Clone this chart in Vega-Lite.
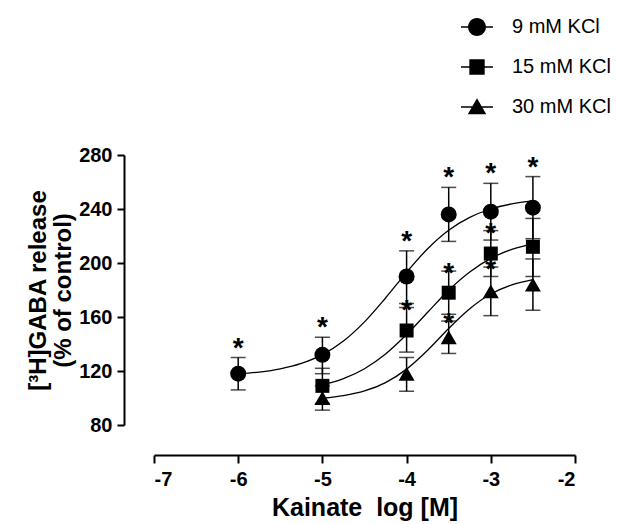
{
  "$schema": "https://vega.github.io/schema/vega-lite/v6.json",
  "autosize": "none",
  "width": 421,
  "height": 270,
  "padding": {"left": 154, "top": 155, "right": 42, "bottom": 99},
  "background": "white",
  "datasets": {
    "points": [
      {"series": "9 mM KCl", "x": -6, "mean": 118, "lo": 106, "hi": 130, "star": true},
      {"series": "9 mM KCl", "x": -5, "mean": 132, "lo": 118, "hi": 145, "star": true},
      {"series": "9 mM KCl", "x": -4, "mean": 190, "lo": 170, "hi": 209, "star": true},
      {"series": "9 mM KCl", "x": -3.5, "mean": 236, "lo": 216, "hi": 256, "star": true},
      {"series": "9 mM KCl", "x": -3, "mean": 238, "lo": 217, "hi": 259, "star": true},
      {"series": "9 mM KCl", "x": -2.5, "mean": 241, "lo": 218, "hi": 264, "star": true},
      {"series": "15 mM KCl", "x": -5, "mean": 109, "lo": 96, "hi": 122, "star": false},
      {"series": "15 mM KCl", "x": -4, "mean": 150, "lo": 134, "hi": 167, "star": true},
      {"series": "15 mM KCl", "x": -3.5, "mean": 178, "lo": 162, "hi": 194, "star": true},
      {"series": "15 mM KCl", "x": -3, "mean": 207, "lo": 190, "hi": 224, "star": true},
      {"series": "15 mM KCl", "x": -2.5, "mean": 212, "lo": 190, "hi": 233, "star": false},
      {"series": "30 mM KCl", "x": -5, "mean": 100, "lo": 91, "hi": 109, "star": false},
      {"series": "30 mM KCl", "x": -4, "mean": 118, "lo": 105, "hi": 130, "star": false},
      {"series": "30 mM KCl", "x": -3.5, "mean": 145, "lo": 133, "hi": 157, "star": true},
      {"series": "30 mM KCl", "x": -3, "mean": 179, "lo": 161, "hi": 197, "star": true},
      {"series": "30 mM KCl", "x": -2.5, "mean": 184, "lo": 165, "hi": 203, "star": false}
    ],
    "curves": [
      {"series": "9 mM KCl", "x": -6, "y": 117.8},
      {"series": "9 mM KCl", "x": -5.75, "y": 119.2},
      {"series": "9 mM KCl", "x": -5.5, "y": 121.6},
      {"series": "9 mM KCl", "x": -5.25, "y": 125.6},
      {"series": "9 mM KCl", "x": -5, "y": 132.1},
      {"series": "9 mM KCl", "x": -4.75, "y": 142.2},
      {"series": "9 mM KCl", "x": -4.5, "y": 156.4},
      {"series": "9 mM KCl", "x": -4.25, "y": 174.1},
      {"series": "9 mM KCl", "x": -4, "y": 193.1},
      {"series": "9 mM KCl", "x": -3.75, "y": 210.6},
      {"series": "9 mM KCl", "x": -3.5, "y": 224.3},
      {"series": "9 mM KCl", "x": -3.25, "y": 233.8},
      {"series": "9 mM KCl", "x": -3, "y": 240.0},
      {"series": "9 mM KCl", "x": -2.75, "y": 243.8},
      {"series": "9 mM KCl", "x": -2.5, "y": 246.0},
      {"series": "15 mM KCl", "x": -5, "y": 109.6},
      {"series": "15 mM KCl", "x": -4.75, "y": 114.3},
      {"series": "15 mM KCl", "x": -4.5, "y": 121.7},
      {"series": "15 mM KCl", "x": -4.25, "y": 132.6},
      {"series": "15 mM KCl", "x": -4, "y": 147.0},
      {"series": "15 mM KCl", "x": -3.75, "y": 163.5},
      {"series": "15 mM KCl", "x": -3.5, "y": 179.8},
      {"series": "15 mM KCl", "x": -3.25, "y": 193.3},
      {"series": "15 mM KCl", "x": -3, "y": 203.4},
      {"series": "15 mM KCl", "x": -2.75, "y": 210.1},
      {"series": "15 mM KCl", "x": -2.5, "y": 214.2},
      {"series": "30 mM KCl", "x": -5, "y": 99.9},
      {"series": "30 mM KCl", "x": -4.75, "y": 101.8},
      {"series": "30 mM KCl", "x": -4.5, "y": 105.2},
      {"series": "30 mM KCl", "x": -4.25, "y": 111.4},
      {"series": "30 mM KCl", "x": -4, "y": 121.4},
      {"series": "30 mM KCl", "x": -3.75, "y": 135.4},
      {"series": "30 mM KCl", "x": -3.5, "y": 151.5},
      {"series": "30 mM KCl", "x": -3.25, "y": 166.1},
      {"series": "30 mM KCl", "x": -3, "y": 177.0},
      {"series": "30 mM KCl", "x": -2.75, "y": 183.8},
      {"series": "30 mM KCl", "x": -2.5, "y": 187.7}
    ]
  },
  "encoding": {
    "x": {
      "field": "x", "type": "quantitative",
      "scale": {"domain": [-7, -2], "nice": false, "zero": false},
      "axis": {
        "offset": 30, "values": [-7, -6, -5, -4, -3, -2], "tickSize": 8, "labelPadding": 6,
        "labelExpr": "'' + datum.value",
        "title": "Kainate\u00a0 log [M]", "titleFontSize": 25, "titlePadding": 6
      }
    }
  },
  "layer": [
    {
      "data": {"name": "curves"},
      "mark": {"type": "line", "interpolate": "monotone", "color": "black", "strokeWidth": 1.3},
      "encoding": {
        "y": {
          "field": "y", "type": "quantitative",
          "title": ["[\u00b3H]GABA release", "(% of control)"],
          "scale": {"domain": [80, 280], "nice": false, "zero": false},
          "axis": {
            "offset": 30, "values": [80, 120, 160, 200, 240, 280], "tickSize": 7, "labelPadding": 5,
            "titleFontSize": 24, "titleLineHeight": 25, "titlePadding": 3
          }
        },
        "detail": {"field": "series"}
      }
    },
    {
      "data": {"name": "points"},
      "mark": {"type": "errorbar", "ticks": true, "size": 15, "thickness": 1.5, "color": "black"},
      "encoding": {
        "y": {"field": "lo", "type": "quantitative", "title": ["[\u00b3H]GABA release", "(% of control)"]},
        "y2": {"field": "hi"}
      }
    },
    {
      "data": {"name": "points"},
      "mark": {"type": "point", "filled": true, "color": "black", "opacity": 1},
      "encoding": {
        "y": {"field": "mean", "type": "quantitative", "title": ["[\u00b3H]GABA release", "(% of control)"]},
        "shape": {
          "field": "series", "type": "nominal",
          "scale": {"domain": ["9 mM KCl", "15 mM KCl", "30 mM KCl"], "range": ["circle", "square", "triangle-up"]},
          "legend": null
        },
        "size": {"condition": {"test": "datum.series == '15 mM KCl'", "value": 196}, "value": 256}
      }
    },
    {
      "data": {"name": "points"},
      "transform": [{"filter": "datum.star && datum.series == '9 mM KCl'"}],
      "mark": {"type": "text", "text": "*", "font": "Liberation Sans", "fontWeight": "bold", "fontSize": 28, "baseline": "alphabetic", "dy": -1, "color": "black"},
      "encoding": {"y": {"field": "hi", "type": "quantitative", "title": ["[\u00b3H]GABA release", "(% of control)"]}}
    },
    {
      "data": {"name": "points"},
      "transform": [{"filter": "datum.star && datum.series != '9 mM KCl'"}],
      "mark": {"type": "text", "text": "*", "font": "Liberation Sans", "fontWeight": "bold", "fontSize": 28, "baseline": "alphabetic", "dy": 11, "color": "black"},
      "encoding": {"y": {"field": "hi", "type": "quantitative", "title": ["[\u00b3H]GABA release", "(% of control)"]}}
    },
    {
      "data": {"name": "points"},
      "mark": {"type": "point", "filled": true, "color": "black", "opacity": 0},
      "encoding": {
        "y": {"field": "mean", "type": "quantitative", "title": ["[\u00b3H]GABA release", "(% of control)"]},
        "shape": {
          "field": "series", "type": "nominal",
          "scale": {
            "domain": ["9 mM KCl", "15 mM KCl", "30 mM KCl"],
            "range": [
              "M-1,-0.05H1V0.05H-1ZM0.56,0A0.56,0.56,0,1,1,-0.56,0A0.56,0.56,0,1,1,0.56,0Z",
              "M-1,-0.05H1V0.05H-1ZM-0.48,-0.48H0.48V0.48H-0.48Z",
              "M-1,-0.05H1V0.05H-1ZM0,-0.55L0.58,0.45L-0.58,0.45Z"
            ]
          },
          "legend": {
            "title": null, "orient": "none", "legendX": 307, "legendY": -144,
            "symbolSize": 1024, "rowPadding": 8, "clipHeight": 32, "labelOffset": 19, "padding": 0,
            "labelFont": "Liberation Sans", "labelFontSize": 20, "labelFontWeight": "normal", "labelColor": "black", "labelLimit": 400,
            "labelExpr": "(datum.label == '9 mM KCl' ? '\u2002' : '') + datum.label",
            "symbolOpacity": 1, "symbolFillColor": "black", "symbolStrokeColor": "black", "symbolStrokeWidth": 0
          }
        }
      }
    }
  ],
  "resolve": {"scale": {"shape": "independent"}},
  "config": {
    "view": {"stroke": null},
    "font": "Liberation Sans",
    "axis": {
      "grid": false, "domainColor": "black", "domainWidth": 2, "tickColor": "black", "tickWidth": 2,
      "labelFont": "Liberation Sans", "labelFontSize": 20, "labelFontWeight": "bold", "labelColor": "black",
      "titleFont": "Liberation Sans", "titleFontWeight": "bold", "titleColor": "black"
    }
  }
}
